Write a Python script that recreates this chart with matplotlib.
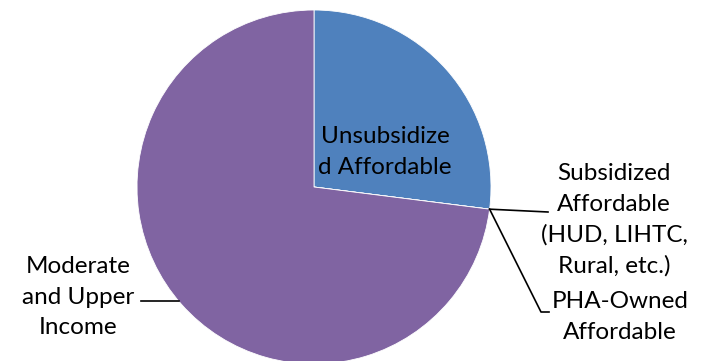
import matplotlib
matplotlib.use("Agg")
import matplotlib.pyplot as plt
import numpy as np

categories = ["Unsubsidized Affordable",
              "Subsidized Affordable (HUD, LIHTC, Rural, etc.)",
              "PHA-Owned Affordable",
              "Moderate and Upper Income"]
values = [27.0, 0.0, 0.0, 73.0]
colors = ["#4F81BD", "#C0504D", "#9BBB59", "#8064A2"]

W, H = 706, 361
fig = plt.figure(figsize=(W / 100, H / 100), dpi=100)
ax = fig.add_axes([0, 0, 1, 1])
ax.set_xlim(0, W)
ax.set_ylim(0, H)
ax.axis("off")

cx, cy, R = 314, 361 - 187, 177
wedges, _ = ax.pie(values, colors=colors, startangle=90, counterclock=False,
                   center=(cx, cy), radius=R,
                   wedgeprops=dict(edgecolor="white", linewidth=0.6))
ax.set_xlim(0, W)
ax.set_ylim(0, H)
ax.set_aspect("equal")

fp = dict(family=["Lato", "DejaVu Sans"], fontsize=17.5, color="black",
          linespacing=1.55)

# inside label
ax.text(385, 361 - 152, "Unsubsidize\nd Affordable", ha="center", va="center", **fp)

def edge_pt(theta_deg):
    t = np.deg2rad(theta_deg)
    return cx + R * np.cos(t), cy + R * np.sin(t)

# boundary angle after blue slice (small slices are at that point)
boundary = 90 - 360 * values[0] / sum(values)
ax_, ay_ = edge_pt(boundary)

# Subsidized
ax.text(614, 361 - 220, "Subsidized\nAffordable\n(HUD, LIHTC,\nRural, etc.)",
        ha="center", va="center", **fp)
ax.plot([ax_, 548], [ay_, 361 - 212], color="black", lw=1.2)

# PHA-owned
ax.text(620, 361 - 317, "PHA-Owned\nAffordable", ha="center", va="center", **fp)
ax.plot([ax_, 541, 549], [ay_, 361 - 312, 361 - 312], color="black", lw=1.2)

# Moderate
ax.text(78, 361 - 297, "Moderate\nand Upper\nIncome", ha="center", va="center", **fp)
mx, my = edge_pt(220.2)
ax.plot([141, mx], [my, my], color="black", lw=1.2)

fig.savefig("out.png", dpi=100)
